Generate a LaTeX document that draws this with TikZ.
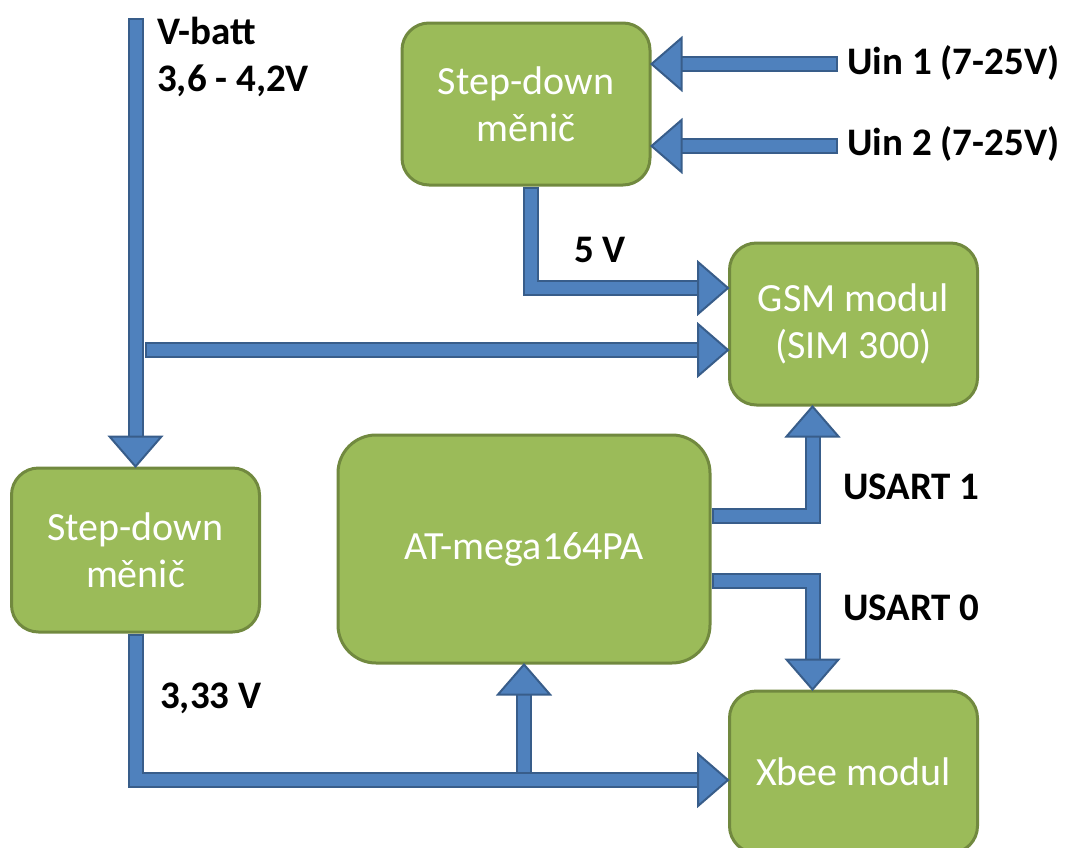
\documentclass[tikz,border=0pt]{standalone}
\usepackage{fontspec}
\setmainfont{Carlito}
\usetikzlibrary{calc,backgrounds}

\definecolor{boxfill}{HTML}{9BBB59}
\definecolor{boxedge}{HTML}{71893F}
\definecolor{pipefill}{HTML}{4F81BD}
\definecolor{pipeedge}{HTML}{385D8A}

\begin{document}
\begin{tikzpicture}[x=1pt, y=-1pt,
    block/.style={rectangle, rounded corners=27pt, draw=boxedge, fill=boxfill, line width=3pt,
      minimum width=248pt, minimum height=162pt, text=white, align=center,
      font=\fontsize{40}{47}\selectfont},
    lbl/.style={inner sep=0pt, align=left, font=\bfseries\fontsize{39}{47}\selectfont},
    pipe/.style={draw=pipeedge, line width=16pt, line join=miter, shorten >=28pt,
      postaction={draw=pipefill, line width=12pt, shorten <=2pt, shorten >=28pt}},
    pipehead/.style={draw=pipeedge, fill=pipefill, line width=2pt, line join=miter}]
    \useasboundingbox (0,0) rectangle (1069,847);

    % Draw the blocks
    \node[block] (sdtop) at (526,104) {Step-down\\měnič};
    \node[block] (gsm) at (853.5,324) {GSM modul\\(SIM 300)};
    \node[block, minimum width=372pt, minimum height=228pt, rounded corners=38pt] (atm) at (524,549) {AT-mega164PA};
    \node[block] (xbee) at (853.5,772) {Xbee modul};
    \node[block, minimum height=164pt] (sdleft) at (135.5,550) {Step-down\\měnič};

    % Draw the labels
    \node[lbl, anchor=west] (vbatt) at (157,57) {V-batt\\3,6 - 4,2V};
    \node[lbl, anchor=west] (v5) at (574,250) {5 V};
    \node[lbl, anchor=west] (us1) at (843,487) {USART 1};
    \node[lbl, anchor=west] (us0) at (843,608) {USART 0};
    \node[lbl, anchor=west] (v33) at (160,698) {3,33 V};
    \foreach \i/\y/\ys in {1/63/64, 2/144/146} {
        \node[lbl, anchor=west] (uin\i) at (847,\y) {Uin \i{} (7-25V)};
        \coordinate (in\i) at (838,\ys);
        \coordinate (tu\i) at (in\i -| sdtop.east);
    }

    % Tip points
    \coordinate (vtop) at (135.5,18);
    \coordinate (vbr) at (145,350);
    \coordinate (tbr) at (vbr -| gsm.west);
    \coordinate (t5) at ($(gsm.west)+(0,-36)$);
    \coordinate (tus1) at ($(gsm.south)+(-41,0)$);
    \coordinate (tus0) at ($(xbee.north)+(-41,0)$);
    \coordinate (txb) at ($(xbee.west)+(0,8)$);

    % Draw the pipes
    \begin{scope}[on background layer]
        \draw[pipe] (vtop) -- (sdleft.north);
        \draw[pipe] (vbr) -- (tbr);
        \draw[pipe] ($(sdtop.south)+(5,0)$) |- (t5);
        \foreach \i in {1,2}
            \draw[pipe] (in\i) -- (tu\i);
        \draw[pipe] ($(atm.east)+(0,-33)$) -| (tus1);
        \draw[pipe] ($(atm.east)+(0,32)$) -| (tus0);
        \draw[pipe] (atm.south |- txb) -- (atm.south);
        \draw[pipe] (sdleft.south) |- (txb);
    \end{scope}

    % Draw the heads
    \foreach \p/\a in {sdleft.north/-90, tbr/0, t5/0, tu1/180, tu2/180,
                       tus1/90, tus0/-90, txb/0, atm.south/90}
        \filldraw[pipehead, shift={(\p)}, rotate=\a] (0,0) -- (-30,26) -- (-30,-26) -- cycle;

\end{tikzpicture}
\end{document}
